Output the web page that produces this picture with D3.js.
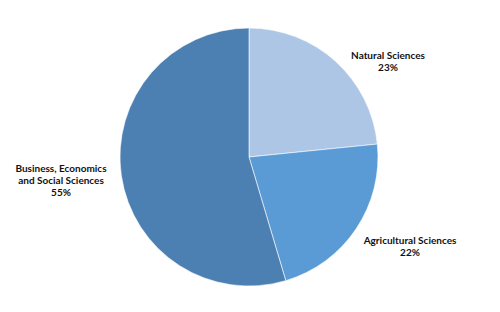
<!DOCTYPE html>
<html>
<head>
<meta charset="utf-8">
<script src="https://cdn.jsdelivr.net/npm/d3@7"></script>
<style>
  body { margin: 0; background: #fff; }
  text { font-family: Lato, "Open Sans", sans-serif; font-weight: bold; font-size: 10px; fill: #111; }
</style>
</head>
<body>
<div id="chart"></div>
<script>
// slices, clockwise from 12 o'clock
const categories = ["Natural Sciences", "Agricultural Sciences", "Business, Economics and Social Sciences"];
const shares = [23.4, 22.0, 54.6];
const colours = ["#adc6e6", "#5a9bd6", "#4c7fb2"];
// label lines for each slice
const labelLines = [
  ["Natural Sciences", "23%"],
  ["Agricultural Sciences", "22%"],
  ["Business, Economics", "and Social Sciences", "55%"]
];
const labelPos = [[388, 55], [410, 240], [61, 168]];

const width = 500, height = 312;
const cx = 249, cy = 157, radius = 129;

const svg = d3.select('#chart').append('svg')
    .attr('width', width)
    .attr('height', height);

const pie = d3.pie().sort(null).value(d => d);
const arc = d3.arc().innerRadius(0).outerRadius(radius);

const color = d3.scaleOrdinal().domain(categories).range(colours);

const g = svg.append('g').attr('transform', `translate(${cx},${cy})`);

g.selectAll('path')
    .data(pie(shares))
    .enter()
    .append('path')
    .attr('d', arc)
    .attr('fill', (d, i) => color(categories[i]))
    .attr('stroke', '#ffffff')
    .attr('stroke-width', 0.6);

// labels
const labels = svg.selectAll('g.label')
    .data(labelLines)
    .enter()
    .append('g')
    .attr('class', 'label')
    .attr('transform', (d, i) => `translate(${labelPos[i][0]},${labelPos[i][1]})`);

labels.selectAll('text')
    .data(d => d)
    .enter()
    .append('text')
    .attr('text-anchor', 'middle')
    .attr('y', (d, i) => i * 12)
    .attr('dy', '0.35em')
    .text(d => d);
</script>
</body>
</html>
